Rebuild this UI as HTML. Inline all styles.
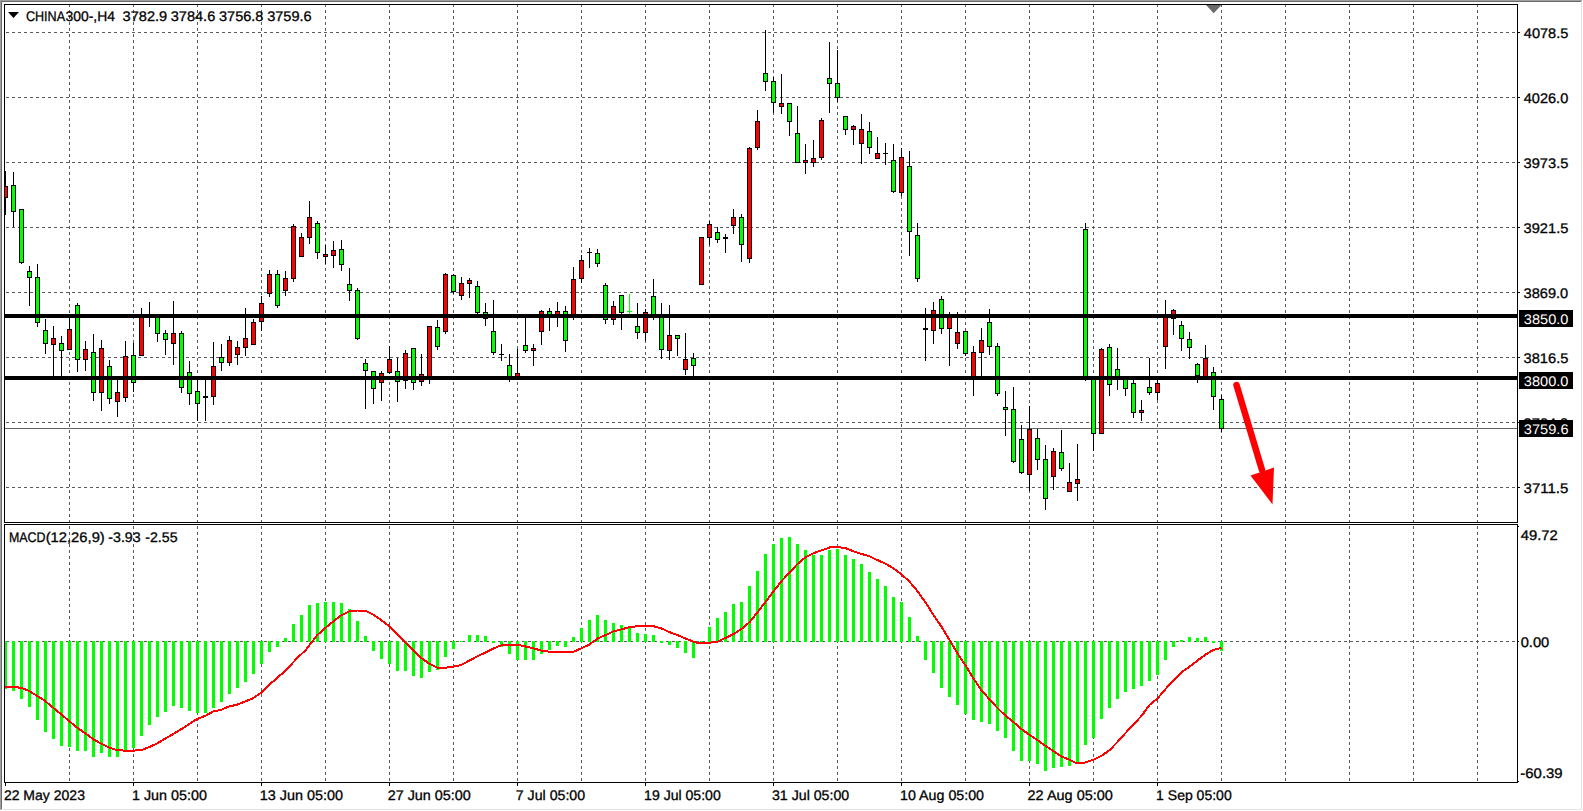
<!DOCTYPE html>
<html lang="en"><head><meta charset="utf-8"><title>CHINA300-,H4</title>
<style>html,body{margin:0;padding:0;background:#fff;overflow:hidden}svg{display:block}text{font-family:"Liberation Sans", sans-serif;font-size:14px;fill:#000;stroke:#000;stroke-width:0.3px}.w{fill:#fff;stroke:none}</style></head><body>
<svg width="1583" height="811" viewBox="0 0 1583 811" shape-rendering="crispEdges">
<rect x="0" y="0" width="1583" height="811" fill="#fff"/>
<rect x="0" y="0" width="1582" height="1" fill="#a0a0a0"/>
<rect x="0" y="0" width="1" height="810" fill="#a0a0a0"/>
<rect x="1" y="1" width="1580" height="1" fill="#696969"/>
<rect x="1" y="1" width="1" height="808" fill="#696969"/>
<rect x="1581" y="1" width="1" height="809" fill="#e3e3e3"/>
<rect x="1" y="809" width="1581" height="1" fill="#e3e3e3"/>
<g stroke="#5a5a5a" stroke-width="1" stroke-dasharray="3 3" fill="none">
<line x1="69.5" y1="4" x2="69.5" y2="522"/>
<line x1="69.5" y1="520" x2="69.5" y2="782"/>
<line x1="133.5" y1="4" x2="133.5" y2="522"/>
<line x1="133.5" y1="520" x2="133.5" y2="782"/>
<line x1="197.5" y1="4" x2="197.5" y2="522"/>
<line x1="197.5" y1="520" x2="197.5" y2="782"/>
<line x1="261.5" y1="4" x2="261.5" y2="522"/>
<line x1="261.5" y1="520" x2="261.5" y2="782"/>
<line x1="325.5" y1="4" x2="325.5" y2="522"/>
<line x1="325.5" y1="520" x2="325.5" y2="782"/>
<line x1="389.5" y1="4" x2="389.5" y2="522"/>
<line x1="389.5" y1="520" x2="389.5" y2="782"/>
<line x1="453.5" y1="4" x2="453.5" y2="522"/>
<line x1="453.5" y1="520" x2="453.5" y2="782"/>
<line x1="517.5" y1="4" x2="517.5" y2="522"/>
<line x1="517.5" y1="520" x2="517.5" y2="782"/>
<line x1="581.5" y1="4" x2="581.5" y2="522"/>
<line x1="581.5" y1="520" x2="581.5" y2="782"/>
<line x1="645.5" y1="4" x2="645.5" y2="522"/>
<line x1="645.5" y1="520" x2="645.5" y2="782"/>
<line x1="709.5" y1="4" x2="709.5" y2="522"/>
<line x1="709.5" y1="520" x2="709.5" y2="782"/>
<line x1="773.5" y1="4" x2="773.5" y2="522"/>
<line x1="773.5" y1="520" x2="773.5" y2="782"/>
<line x1="837.5" y1="4" x2="837.5" y2="522"/>
<line x1="837.5" y1="520" x2="837.5" y2="782"/>
<line x1="901.5" y1="4" x2="901.5" y2="522"/>
<line x1="901.5" y1="520" x2="901.5" y2="782"/>
<line x1="965.5" y1="4" x2="965.5" y2="522"/>
<line x1="965.5" y1="520" x2="965.5" y2="782"/>
<line x1="1029.5" y1="4" x2="1029.5" y2="522"/>
<line x1="1029.5" y1="520" x2="1029.5" y2="782"/>
<line x1="1093.5" y1="4" x2="1093.5" y2="522"/>
<line x1="1093.5" y1="520" x2="1093.5" y2="782"/>
<line x1="1157.5" y1="4" x2="1157.5" y2="522"/>
<line x1="1157.5" y1="520" x2="1157.5" y2="782"/>
<line x1="1221.5" y1="4" x2="1221.5" y2="522"/>
<line x1="1221.5" y1="520" x2="1221.5" y2="782"/>
<line x1="1285.5" y1="4" x2="1285.5" y2="522"/>
<line x1="1285.5" y1="520" x2="1285.5" y2="782"/>
<line x1="1349.5" y1="4" x2="1349.5" y2="522"/>
<line x1="1349.5" y1="520" x2="1349.5" y2="782"/>
<line x1="1413.5" y1="4" x2="1413.5" y2="522"/>
<line x1="1413.5" y1="520" x2="1413.5" y2="782"/>
<line x1="1477.5" y1="4" x2="1477.5" y2="522"/>
<line x1="1477.5" y1="520" x2="1477.5" y2="782"/>
<line x1="6" y1="32.5" x2="1517" y2="32.5"/>
<line x1="6" y1="97.5" x2="1517" y2="97.5"/>
<line x1="6" y1="162.5" x2="1517" y2="162.5"/>
<line x1="6" y1="227.5" x2="1517" y2="227.5"/>
<line x1="6" y1="292.5" x2="1517" y2="292.5"/>
<line x1="6" y1="357.5" x2="1517" y2="357.5"/>
<line x1="6" y1="422.5" x2="1517" y2="422.5"/>
<line x1="6" y1="487.5" x2="1517" y2="487.5"/>
<line x1="6" y1="641.5" x2="1517" y2="641.5"/>
</g>
<rect x="5" y="523" width="1512" height="1" fill="#fff"/>
<rect x="4" y="641" width="3" height="48" fill="#00ff00"/>
<rect x="12" y="641" width="3" height="50" fill="#00ff00"/>
<rect x="20" y="641" width="3" height="58" fill="#00ff00"/>
<rect x="28" y="641" width="3" height="66" fill="#00ff00"/>
<rect x="36" y="641" width="3" height="79" fill="#00ff00"/>
<rect x="44" y="641" width="3" height="91" fill="#00ff00"/>
<rect x="52" y="641" width="3" height="98" fill="#00ff00"/>
<rect x="60" y="641" width="3" height="105" fill="#00ff00"/>
<rect x="68" y="641" width="3" height="106" fill="#00ff00"/>
<rect x="76" y="641" width="3" height="110" fill="#00ff00"/>
<rect x="84" y="641" width="3" height="110" fill="#00ff00"/>
<rect x="92" y="641" width="3" height="116" fill="#00ff00"/>
<rect x="100" y="641" width="3" height="112" fill="#00ff00"/>
<rect x="108" y="641" width="3" height="116" fill="#00ff00"/>
<rect x="116" y="641" width="3" height="116" fill="#00ff00"/>
<rect x="124" y="641" width="3" height="109" fill="#00ff00"/>
<rect x="132" y="641" width="3" height="107" fill="#00ff00"/>
<rect x="140" y="641" width="3" height="95" fill="#00ff00"/>
<rect x="148" y="641" width="3" height="84" fill="#00ff00"/>
<rect x="156" y="641" width="3" height="76" fill="#00ff00"/>
<rect x="164" y="641" width="3" height="71" fill="#00ff00"/>
<rect x="172" y="641" width="3" height="65" fill="#00ff00"/>
<rect x="180" y="641" width="3" height="67" fill="#00ff00"/>
<rect x="188" y="641" width="3" height="70" fill="#00ff00"/>
<rect x="196" y="641" width="3" height="72" fill="#00ff00"/>
<rect x="204" y="641" width="3" height="72" fill="#00ff00"/>
<rect x="212" y="641" width="3" height="67" fill="#00ff00"/>
<rect x="220" y="641" width="3" height="61" fill="#00ff00"/>
<rect x="228" y="641" width="3" height="53" fill="#00ff00"/>
<rect x="236" y="641" width="3" height="47" fill="#00ff00"/>
<rect x="244" y="641" width="3" height="41" fill="#00ff00"/>
<rect x="252" y="641" width="3" height="33" fill="#00ff00"/>
<rect x="260" y="641" width="3" height="23" fill="#00ff00"/>
<rect x="268" y="641" width="3" height="11" fill="#00ff00"/>
<rect x="276" y="641" width="3" height="6" fill="#00ff00"/>
<rect x="284" y="638" width="3" height="4" fill="#00ff00"/>
<rect x="292" y="624" width="3" height="18" fill="#00ff00"/>
<rect x="300" y="615" width="3" height="27" fill="#00ff00"/>
<rect x="308" y="605" width="3" height="37" fill="#00ff00"/>
<rect x="316" y="603" width="3" height="39" fill="#00ff00"/>
<rect x="324" y="602" width="3" height="40" fill="#00ff00"/>
<rect x="332" y="602" width="3" height="40" fill="#00ff00"/>
<rect x="340" y="603" width="3" height="39" fill="#00ff00"/>
<rect x="348" y="609" width="3" height="33" fill="#00ff00"/>
<rect x="356" y="621" width="3" height="21" fill="#00ff00"/>
<rect x="364" y="636" width="3" height="6" fill="#00ff00"/>
<rect x="372" y="641" width="3" height="10" fill="#00ff00"/>
<rect x="380" y="641" width="3" height="18" fill="#00ff00"/>
<rect x="388" y="641" width="3" height="23" fill="#00ff00"/>
<rect x="396" y="641" width="3" height="30" fill="#00ff00"/>
<rect x="404" y="641" width="3" height="30" fill="#00ff00"/>
<rect x="412" y="641" width="3" height="35" fill="#00ff00"/>
<rect x="420" y="641" width="3" height="37" fill="#00ff00"/>
<rect x="428" y="641" width="3" height="31" fill="#00ff00"/>
<rect x="436" y="641" width="3" height="29" fill="#00ff00"/>
<rect x="444" y="641" width="3" height="16" fill="#00ff00"/>
<rect x="452" y="641" width="3" height="8" fill="#00ff00"/>
<rect x="460" y="641" width="3" height="1" fill="#00ff00"/>
<rect x="468" y="635" width="3" height="7" fill="#00ff00"/>
<rect x="476" y="635" width="3" height="7" fill="#00ff00"/>
<rect x="484" y="636" width="3" height="6" fill="#00ff00"/>
<rect x="492" y="641" width="3" height="2" fill="#00ff00"/>
<rect x="500" y="641" width="3" height="6" fill="#00ff00"/>
<rect x="508" y="641" width="3" height="13" fill="#00ff00"/>
<rect x="516" y="641" width="3" height="19" fill="#00ff00"/>
<rect x="524" y="641" width="3" height="19" fill="#00ff00"/>
<rect x="532" y="641" width="3" height="19" fill="#00ff00"/>
<rect x="540" y="641" width="3" height="13" fill="#00ff00"/>
<rect x="548" y="641" width="3" height="9" fill="#00ff00"/>
<rect x="556" y="641" width="3" height="5" fill="#00ff00"/>
<rect x="564" y="641" width="3" height="6" fill="#00ff00"/>
<rect x="572" y="637" width="3" height="5" fill="#00ff00"/>
<rect x="580" y="628" width="3" height="14" fill="#00ff00"/>
<rect x="588" y="620" width="3" height="22" fill="#00ff00"/>
<rect x="596" y="615" width="3" height="27" fill="#00ff00"/>
<rect x="604" y="620" width="3" height="22" fill="#00ff00"/>
<rect x="612" y="623" width="3" height="19" fill="#00ff00"/>
<rect x="620" y="625" width="3" height="17" fill="#00ff00"/>
<rect x="628" y="628" width="3" height="14" fill="#00ff00"/>
<rect x="636" y="633" width="3" height="9" fill="#00ff00"/>
<rect x="644" y="634" width="3" height="8" fill="#00ff00"/>
<rect x="652" y="635" width="3" height="7" fill="#00ff00"/>
<rect x="660" y="641" width="3" height="2" fill="#00ff00"/>
<rect x="668" y="641" width="3" height="4" fill="#00ff00"/>
<rect x="676" y="641" width="3" height="7" fill="#00ff00"/>
<rect x="684" y="641" width="3" height="12" fill="#00ff00"/>
<rect x="692" y="641" width="3" height="17" fill="#00ff00"/>
<rect x="700" y="641" width="3" height="2" fill="#00ff00"/>
<rect x="708" y="627" width="3" height="15" fill="#00ff00"/>
<rect x="716" y="618" width="3" height="24" fill="#00ff00"/>
<rect x="724" y="612" width="3" height="30" fill="#00ff00"/>
<rect x="732" y="604" width="3" height="38" fill="#00ff00"/>
<rect x="740" y="602" width="3" height="40" fill="#00ff00"/>
<rect x="748" y="586" width="3" height="56" fill="#00ff00"/>
<rect x="756" y="571" width="3" height="71" fill="#00ff00"/>
<rect x="764" y="554" width="3" height="88" fill="#00ff00"/>
<rect x="772" y="544" width="3" height="98" fill="#00ff00"/>
<rect x="780" y="538" width="3" height="104" fill="#00ff00"/>
<rect x="788" y="537" width="3" height="105" fill="#00ff00"/>
<rect x="796" y="544" width="3" height="98" fill="#00ff00"/>
<rect x="804" y="550" width="3" height="92" fill="#00ff00"/>
<rect x="812" y="555" width="3" height="87" fill="#00ff00"/>
<rect x="820" y="555" width="3" height="87" fill="#00ff00"/>
<rect x="828" y="550" width="3" height="92" fill="#00ff00"/>
<rect x="836" y="549" width="3" height="93" fill="#00ff00"/>
<rect x="844" y="555" width="3" height="87" fill="#00ff00"/>
<rect x="852" y="559" width="3" height="83" fill="#00ff00"/>
<rect x="860" y="564" width="3" height="78" fill="#00ff00"/>
<rect x="868" y="572" width="3" height="70" fill="#00ff00"/>
<rect x="876" y="579" width="3" height="63" fill="#00ff00"/>
<rect x="884" y="586" width="3" height="56" fill="#00ff00"/>
<rect x="892" y="597" width="3" height="45" fill="#00ff00"/>
<rect x="900" y="602" width="3" height="40" fill="#00ff00"/>
<rect x="908" y="617" width="3" height="25" fill="#00ff00"/>
<rect x="916" y="636" width="3" height="6" fill="#00ff00"/>
<rect x="924" y="641" width="3" height="19" fill="#00ff00"/>
<rect x="932" y="641" width="3" height="32" fill="#00ff00"/>
<rect x="940" y="641" width="3" height="47" fill="#00ff00"/>
<rect x="948" y="641" width="3" height="56" fill="#00ff00"/>
<rect x="956" y="641" width="3" height="64" fill="#00ff00"/>
<rect x="964" y="641" width="3" height="73" fill="#00ff00"/>
<rect x="972" y="641" width="3" height="79" fill="#00ff00"/>
<rect x="980" y="641" width="3" height="81" fill="#00ff00"/>
<rect x="988" y="641" width="3" height="83" fill="#00ff00"/>
<rect x="996" y="641" width="3" height="90" fill="#00ff00"/>
<rect x="1004" y="641" width="3" height="97" fill="#00ff00"/>
<rect x="1012" y="641" width="3" height="110" fill="#00ff00"/>
<rect x="1020" y="641" width="3" height="120" fill="#00ff00"/>
<rect x="1028" y="641" width="3" height="120" fill="#00ff00"/>
<rect x="1036" y="641" width="3" height="123" fill="#00ff00"/>
<rect x="1044" y="641" width="3" height="130" fill="#00ff00"/>
<rect x="1052" y="641" width="3" height="127" fill="#00ff00"/>
<rect x="1060" y="641" width="3" height="126" fill="#00ff00"/>
<rect x="1068" y="641" width="3" height="125" fill="#00ff00"/>
<rect x="1076" y="641" width="3" height="121" fill="#00ff00"/>
<rect x="1084" y="641" width="3" height="104" fill="#00ff00"/>
<rect x="1092" y="641" width="3" height="97" fill="#00ff00"/>
<rect x="1100" y="641" width="3" height="78" fill="#00ff00"/>
<rect x="1108" y="641" width="3" height="67" fill="#00ff00"/>
<rect x="1116" y="641" width="3" height="58" fill="#00ff00"/>
<rect x="1124" y="641" width="3" height="51" fill="#00ff00"/>
<rect x="1132" y="641" width="3" height="48" fill="#00ff00"/>
<rect x="1140" y="641" width="3" height="45" fill="#00ff00"/>
<rect x="1148" y="641" width="3" height="40" fill="#00ff00"/>
<rect x="1156" y="641" width="3" height="34" fill="#00ff00"/>
<rect x="1164" y="641" width="3" height="19" fill="#00ff00"/>
<rect x="1172" y="641" width="3" height="6" fill="#00ff00"/>
<rect x="1180" y="640" width="3" height="2" fill="#00ff00"/>
<rect x="1188" y="637" width="3" height="5" fill="#00ff00"/>
<rect x="1196" y="638" width="3" height="4" fill="#00ff00"/>
<rect x="1204" y="637" width="3" height="5" fill="#00ff00"/>
<rect x="1212" y="641" width="3" height="2" fill="#00ff00"/>
<rect x="1220" y="641" width="3" height="10" fill="#00ff00"/>
<polyline points="5.0,687.0 21.0,687.6 29.0,691.0 37.0,695.8 45.0,700.9 53.0,707.6 61.0,714.2 69.0,720.9 77.0,727.6 85.0,733.1 93.0,739.1 101.0,743.5 109.0,747.5 117.0,750.2 125.0,750.6 133.0,750.6 141.0,750.2 149.0,747.1 157.0,743.5 165.0,738.7 173.0,734.2 181.0,729.3 189.0,724.2 197.0,719.1 205.0,716.0 213.0,711.6 221.0,709.8 229.0,706.5 237.0,704.7 245.0,701.6 253.0,698.3 261.0,692.8 269.0,685.0 277.0,678.0 285.6,670.5 297.9,657.3 305.5,650.3 316.9,635.5 325.4,627.9 333.5,621.3 341.5,615.2 349.4,611.2 357.6,610.5 365.2,610.8 373.5,614.6 381.5,620.3 389.4,626.4 397.6,634.5 405.5,642.1 413.5,650.6 421.5,658.2 429.6,663.9 437.6,667.7 445.5,667.7 453.5,666.7 461.4,664.9 469.6,660.5 477.5,656.3 485.5,652.5 493.5,648.4 501.4,645.3 509.6,644.6 517.5,644.6 525.5,646.5 533.5,648.4 541.4,650.6 549.6,651.8 560.0,652.1 572.7,652.1 581.5,648.3 589.4,644.5 597.6,638.5 605.5,635.1 613.5,631.3 621.4,629.4 629.6,627.1 637.5,626.2 645.5,626.0 653.5,626.2 661.4,628.4 669.6,632.2 677.5,635.1 685.5,638.5 693.4,641.7 697.8,643.0 709.6,642.7 717.5,641.7 725.5,637.9 733.4,634.1 741.4,629.0 749.5,622.2 757.5,612.3 765.5,601.9 773.4,591.5 781.6,581.1 789.5,572.5 797.5,564.0 805.4,557.4 813.4,553.2 821.5,550.4 829.5,547.5 837.5,547.1 845.4,548.1 853.3,551.3 869.3,556.3 885.3,563.7 893.3,568.1 901.5,574.3 909.5,581.7 917.5,591.2 925.5,602.5 933.5,614.9 941.5,626.7 949.5,640.0 957.5,653.3 965.4,665.2 973.4,678.5 981.4,690.3 989.4,699.2 997.5,708.1 1005.5,715.8 1013.5,722.1 1021.5,729.2 1029.6,734.9 1037.6,740.3 1045.4,745.8 1053.5,751.1 1061.5,756.5 1069.5,759.7 1075.0,762.6 1084.6,762.6 1093.6,759.7 1101.4,755.9 1109.5,750.2 1117.5,742.0 1125.5,733.0 1133.5,724.4 1141.6,715.8 1149.6,704.9 1157.4,698.6 1165.5,689.0 1173.5,680.4 1181.5,672.4 1189.5,666.7 1197.6,660.4 1205.6,654.6 1213.6,649.8 1221.5,647.9" fill="none" stroke="#ff0000" stroke-width="2" stroke-linejoin="round"/>
<rect x="5" y="428" width="1512" height="1" fill="#646464"/>
<rect x="5" y="171" width="1" height="44" fill="#000"/>
<rect x="3" y="186" width="5" height="12" fill="#000"/>
<rect x="4" y="187" width="3" height="10" fill="#ff0000"/>
<rect x="13" y="172" width="1" height="55" fill="#000"/>
<rect x="11" y="185" width="5" height="27" fill="#000"/>
<rect x="12" y="186" width="3" height="25" fill="#00ff00"/>
<rect x="21" y="209" width="1" height="55" fill="#000"/>
<rect x="19" y="209" width="5" height="54" fill="#000"/>
<rect x="20" y="210" width="3" height="52" fill="#00ff00"/>
<rect x="29" y="266" width="1" height="40" fill="#000"/>
<rect x="27" y="271" width="5" height="7" fill="#000"/>
<rect x="28" y="272" width="3" height="5" fill="#00ff00"/>
<rect x="37" y="264" width="1" height="63" fill="#000"/>
<rect x="35" y="277" width="5" height="46" fill="#000"/>
<rect x="36" y="278" width="3" height="44" fill="#00ff00"/>
<rect x="45" y="319" width="1" height="35" fill="#000"/>
<rect x="43" y="330" width="5" height="14" fill="#000"/>
<rect x="44" y="331" width="3" height="12" fill="#00ff00"/>
<rect x="53" y="326" width="1" height="52" fill="#000"/>
<rect x="51" y="338" width="5" height="7" fill="#000"/>
<rect x="52" y="339" width="3" height="5" fill="#ff0000"/>
<rect x="61" y="336" width="1" height="42" fill="#000"/>
<rect x="59" y="343" width="5" height="8" fill="#000"/>
<rect x="60" y="344" width="3" height="6" fill="#00ff00"/>
<rect x="69" y="314" width="1" height="36" fill="#000"/>
<rect x="67" y="329" width="5" height="21" fill="#000"/>
<rect x="68" y="330" width="3" height="19" fill="#ff0000"/>
<rect x="77" y="303" width="1" height="69" fill="#000"/>
<rect x="75" y="305" width="5" height="55" fill="#000"/>
<rect x="76" y="306" width="3" height="53" fill="#00ff00"/>
<rect x="85" y="341" width="1" height="30" fill="#000"/>
<rect x="83" y="349" width="5" height="11" fill="#000"/>
<rect x="84" y="350" width="3" height="9" fill="#ff0000"/>
<rect x="93" y="334" width="1" height="67" fill="#000"/>
<rect x="91" y="352" width="5" height="41" fill="#000"/>
<rect x="92" y="353" width="3" height="39" fill="#00ff00"/>
<rect x="101" y="340" width="1" height="71" fill="#000"/>
<rect x="99" y="348" width="5" height="45" fill="#000"/>
<rect x="100" y="349" width="3" height="43" fill="#ff0000"/>
<rect x="109" y="360" width="1" height="44" fill="#000"/>
<rect x="107" y="366" width="5" height="33" fill="#000"/>
<rect x="108" y="367" width="3" height="31" fill="#00ff00"/>
<rect x="117" y="378" width="1" height="39" fill="#000"/>
<rect x="115" y="392" width="5" height="10" fill="#000"/>
<rect x="116" y="393" width="3" height="8" fill="#ff0000"/>
<rect x="125" y="341" width="1" height="61" fill="#000"/>
<rect x="123" y="356" width="5" height="42" fill="#000"/>
<rect x="124" y="357" width="3" height="40" fill="#ff0000"/>
<rect x="133" y="343" width="1" height="49" fill="#000"/>
<rect x="131" y="355" width="5" height="28" fill="#000"/>
<rect x="132" y="356" width="3" height="26" fill="#00ff00"/>
<rect x="141" y="308" width="1" height="48" fill="#000"/>
<rect x="139" y="316" width="5" height="40" fill="#000"/>
<rect x="140" y="317" width="3" height="38" fill="#ff0000"/>
<rect x="149" y="302" width="1" height="25" fill="#000"/>
<rect x="147" y="316" width="5" height="1" fill="#000"/>
<rect x="157" y="315" width="1" height="27" fill="#000"/>
<rect x="155" y="316" width="5" height="18" fill="#000"/>
<rect x="156" y="317" width="3" height="16" fill="#00ff00"/>
<rect x="165" y="330" width="1" height="25" fill="#000"/>
<rect x="163" y="333" width="5" height="7" fill="#000"/>
<rect x="164" y="334" width="3" height="5" fill="#00ff00"/>
<rect x="173" y="301" width="1" height="64" fill="#000"/>
<rect x="171" y="333" width="5" height="11" fill="#000"/>
<rect x="172" y="334" width="3" height="9" fill="#ff0000"/>
<rect x="181" y="331" width="1" height="62" fill="#000"/>
<rect x="179" y="333" width="5" height="55" fill="#000"/>
<rect x="180" y="334" width="3" height="53" fill="#00ff00"/>
<rect x="189" y="361" width="1" height="44" fill="#000"/>
<rect x="187" y="372" width="5" height="22" fill="#000"/>
<rect x="188" y="373" width="3" height="20" fill="#00ff00"/>
<rect x="197" y="378" width="1" height="43" fill="#000"/>
<rect x="195" y="391" width="5" height="13" fill="#000"/>
<rect x="196" y="392" width="3" height="11" fill="#00ff00"/>
<rect x="205" y="378" width="1" height="43" fill="#000"/>
<rect x="203" y="396" width="5" height="2" fill="#000"/>
<rect x="213" y="342" width="1" height="63" fill="#000"/>
<rect x="211" y="366" width="5" height="31" fill="#000"/>
<rect x="212" y="367" width="3" height="29" fill="#ff0000"/>
<rect x="221" y="344" width="1" height="27" fill="#000"/>
<rect x="219" y="357" width="5" height="6" fill="#000"/>
<rect x="220" y="358" width="3" height="4" fill="#00ff00"/>
<rect x="229" y="336" width="1" height="30" fill="#000"/>
<rect x="227" y="340" width="5" height="23" fill="#000"/>
<rect x="228" y="341" width="3" height="21" fill="#ff0000"/>
<rect x="237" y="341" width="1" height="24" fill="#000"/>
<rect x="235" y="347" width="5" height="8" fill="#000"/>
<rect x="236" y="348" width="3" height="6" fill="#ff0000"/>
<rect x="245" y="308" width="1" height="48" fill="#000"/>
<rect x="243" y="338" width="5" height="10" fill="#000"/>
<rect x="244" y="339" width="3" height="8" fill="#ff0000"/>
<rect x="253" y="319" width="1" height="26" fill="#000"/>
<rect x="251" y="322" width="5" height="23" fill="#000"/>
<rect x="252" y="323" width="3" height="21" fill="#ff0000"/>
<rect x="261" y="296" width="1" height="35" fill="#000"/>
<rect x="259" y="303" width="5" height="19" fill="#000"/>
<rect x="260" y="304" width="3" height="17" fill="#ff0000"/>
<rect x="269" y="270" width="1" height="27" fill="#000"/>
<rect x="267" y="274" width="5" height="20" fill="#000"/>
<rect x="268" y="275" width="3" height="18" fill="#ff0000"/>
<rect x="277" y="270" width="1" height="38" fill="#000"/>
<rect x="275" y="274" width="5" height="32" fill="#000"/>
<rect x="276" y="275" width="3" height="30" fill="#00ff00"/>
<rect x="285" y="271" width="1" height="25" fill="#000"/>
<rect x="283" y="278" width="5" height="13" fill="#000"/>
<rect x="284" y="279" width="3" height="11" fill="#ff0000"/>
<rect x="293" y="224" width="1" height="58" fill="#000"/>
<rect x="291" y="226" width="5" height="53" fill="#000"/>
<rect x="292" y="227" width="3" height="51" fill="#ff0000"/>
<rect x="301" y="233" width="1" height="24" fill="#000"/>
<rect x="299" y="237" width="5" height="20" fill="#000"/>
<rect x="300" y="238" width="3" height="18" fill="#ff0000"/>
<rect x="309" y="201" width="1" height="43" fill="#000"/>
<rect x="307" y="217" width="5" height="21" fill="#000"/>
<rect x="308" y="218" width="3" height="19" fill="#ff0000"/>
<rect x="317" y="221" width="1" height="38" fill="#000"/>
<rect x="315" y="223" width="5" height="30" fill="#000"/>
<rect x="316" y="224" width="3" height="28" fill="#00ff00"/>
<rect x="325" y="245" width="1" height="19" fill="#000"/>
<rect x="323" y="254" width="5" height="3" fill="#000"/>
<rect x="324" y="255" width="3" height="1" fill="#ff0000"/>
<rect x="333" y="241" width="1" height="27" fill="#000"/>
<rect x="331" y="250" width="5" height="6" fill="#000"/>
<rect x="332" y="251" width="3" height="4" fill="#ff0000"/>
<rect x="341" y="240" width="1" height="31" fill="#000"/>
<rect x="339" y="249" width="5" height="16" fill="#000"/>
<rect x="340" y="250" width="3" height="14" fill="#00ff00"/>
<rect x="349" y="268" width="1" height="33" fill="#000"/>
<rect x="347" y="284" width="5" height="7" fill="#000"/>
<rect x="348" y="285" width="3" height="5" fill="#00ff00"/>
<rect x="357" y="288" width="1" height="52" fill="#000"/>
<rect x="355" y="290" width="5" height="49" fill="#000"/>
<rect x="356" y="291" width="3" height="47" fill="#00ff00"/>
<rect x="365" y="359" width="1" height="50" fill="#000"/>
<rect x="363" y="363" width="5" height="8" fill="#000"/>
<rect x="364" y="364" width="3" height="6" fill="#00ff00"/>
<rect x="373" y="371" width="1" height="33" fill="#000"/>
<rect x="371" y="371" width="5" height="18" fill="#000"/>
<rect x="372" y="372" width="3" height="16" fill="#00ff00"/>
<rect x="381" y="371" width="1" height="30" fill="#000"/>
<rect x="379" y="373" width="5" height="10" fill="#000"/>
<rect x="380" y="374" width="3" height="8" fill="#ff0000"/>
<rect x="389" y="346" width="1" height="28" fill="#000"/>
<rect x="387" y="359" width="5" height="14" fill="#000"/>
<rect x="388" y="360" width="3" height="12" fill="#ff0000"/>
<rect x="397" y="358" width="1" height="44" fill="#000"/>
<rect x="395" y="371" width="5" height="11" fill="#000"/>
<rect x="396" y="372" width="3" height="9" fill="#00ff00"/>
<rect x="405" y="350" width="1" height="39" fill="#000"/>
<rect x="403" y="353" width="5" height="28" fill="#000"/>
<rect x="404" y="354" width="3" height="26" fill="#ff0000"/>
<rect x="413" y="348" width="1" height="42" fill="#000"/>
<rect x="411" y="348" width="5" height="35" fill="#000"/>
<rect x="412" y="349" width="3" height="33" fill="#00ff00"/>
<rect x="421" y="354" width="1" height="32" fill="#000"/>
<rect x="419" y="374" width="5" height="8" fill="#000"/>
<rect x="420" y="375" width="3" height="6" fill="#ff0000"/>
<rect x="429" y="326" width="1" height="58" fill="#000"/>
<rect x="427" y="326" width="5" height="53" fill="#000"/>
<rect x="428" y="327" width="3" height="51" fill="#ff0000"/>
<rect x="437" y="320" width="1" height="30" fill="#000"/>
<rect x="435" y="327" width="5" height="20" fill="#000"/>
<rect x="436" y="328" width="3" height="18" fill="#00ff00"/>
<rect x="445" y="273" width="1" height="61" fill="#000"/>
<rect x="443" y="274" width="5" height="58" fill="#000"/>
<rect x="444" y="275" width="3" height="56" fill="#ff0000"/>
<rect x="453" y="274" width="1" height="20" fill="#000"/>
<rect x="451" y="275" width="5" height="17" fill="#000"/>
<rect x="452" y="276" width="3" height="15" fill="#00ff00"/>
<rect x="461" y="277" width="1" height="23" fill="#000"/>
<rect x="459" y="283" width="5" height="13" fill="#000"/>
<rect x="460" y="284" width="3" height="11" fill="#ff0000"/>
<rect x="469" y="278" width="1" height="20" fill="#000"/>
<rect x="467" y="280" width="5" height="4" fill="#000"/>
<rect x="468" y="281" width="3" height="2" fill="#ff0000"/>
<rect x="477" y="281" width="1" height="33" fill="#000"/>
<rect x="475" y="286" width="5" height="27" fill="#000"/>
<rect x="476" y="287" width="3" height="25" fill="#00ff00"/>
<rect x="485" y="303" width="1" height="23" fill="#000"/>
<rect x="483" y="312" width="5" height="7" fill="#000"/>
<rect x="484" y="313" width="3" height="5" fill="#00ff00"/>
<rect x="493" y="300" width="1" height="55" fill="#000"/>
<rect x="491" y="331" width="5" height="22" fill="#000"/>
<rect x="492" y="332" width="3" height="20" fill="#00ff00"/>
<rect x="501" y="344" width="1" height="17" fill="#000"/>
<rect x="499" y="354" width="5" height="1" fill="#000"/>
<rect x="509" y="354" width="1" height="28" fill="#000"/>
<rect x="507" y="365" width="5" height="14" fill="#000"/>
<rect x="508" y="366" width="3" height="12" fill="#00ff00"/>
<rect x="517" y="349" width="1" height="31" fill="#000"/>
<rect x="515" y="373" width="5" height="6" fill="#000"/>
<rect x="516" y="374" width="3" height="4" fill="#ff0000"/>
<rect x="525" y="316" width="1" height="37" fill="#000"/>
<rect x="523" y="345" width="5" height="6" fill="#000"/>
<rect x="524" y="346" width="3" height="4" fill="#00ff00"/>
<rect x="533" y="344" width="1" height="22" fill="#000"/>
<rect x="531" y="348" width="5" height="3" fill="#000"/>
<rect x="532" y="349" width="3" height="1" fill="#ff0000"/>
<rect x="541" y="310" width="1" height="35" fill="#000"/>
<rect x="539" y="311" width="5" height="21" fill="#000"/>
<rect x="540" y="312" width="3" height="19" fill="#ff0000"/>
<rect x="549" y="308" width="1" height="23" fill="#000"/>
<rect x="547" y="311" width="5" height="7" fill="#000"/>
<rect x="548" y="312" width="3" height="5" fill="#00ff00"/>
<rect x="557" y="302" width="1" height="25" fill="#000"/>
<rect x="555" y="311" width="5" height="7" fill="#000"/>
<rect x="556" y="312" width="3" height="5" fill="#ff0000"/>
<rect x="565" y="306" width="1" height="46" fill="#000"/>
<rect x="563" y="311" width="5" height="30" fill="#000"/>
<rect x="564" y="312" width="3" height="28" fill="#00ff00"/>
<rect x="573" y="267" width="1" height="53" fill="#000"/>
<rect x="571" y="279" width="5" height="38" fill="#000"/>
<rect x="572" y="280" width="3" height="36" fill="#ff0000"/>
<rect x="581" y="255" width="1" height="28" fill="#000"/>
<rect x="579" y="260" width="5" height="19" fill="#000"/>
<rect x="580" y="261" width="3" height="17" fill="#ff0000"/>
<rect x="589" y="248" width="1" height="20" fill="#000"/>
<rect x="587" y="252" width="5" height="1" fill="#000"/>
<rect x="597" y="249" width="1" height="18" fill="#000"/>
<rect x="595" y="253" width="5" height="11" fill="#000"/>
<rect x="596" y="254" width="3" height="9" fill="#00ff00"/>
<rect x="605" y="283" width="1" height="41" fill="#000"/>
<rect x="603" y="285" width="5" height="35" fill="#000"/>
<rect x="604" y="286" width="3" height="33" fill="#00ff00"/>
<rect x="613" y="301" width="1" height="24" fill="#000"/>
<rect x="611" y="306" width="5" height="14" fill="#000"/>
<rect x="612" y="307" width="3" height="12" fill="#ff0000"/>
<rect x="621" y="295" width="1" height="35" fill="#000"/>
<rect x="619" y="295" width="5" height="18" fill="#000"/>
<rect x="620" y="296" width="3" height="16" fill="#00ff00"/>
<rect x="629" y="294" width="1" height="22" fill="#00ff00"/>
<rect x="627" y="311" width="5" height="1" fill="#00ff00"/>
<rect x="637" y="303" width="1" height="36" fill="#000"/>
<rect x="635" y="326" width="5" height="7" fill="#000"/>
<rect x="636" y="327" width="3" height="5" fill="#00ff00"/>
<rect x="645" y="309" width="1" height="32" fill="#000"/>
<rect x="643" y="312" width="5" height="21" fill="#000"/>
<rect x="644" y="313" width="3" height="19" fill="#ff0000"/>
<rect x="653" y="279" width="1" height="41" fill="#000"/>
<rect x="651" y="296" width="5" height="22" fill="#000"/>
<rect x="652" y="297" width="3" height="20" fill="#00ff00"/>
<rect x="661" y="303" width="1" height="56" fill="#000"/>
<rect x="659" y="316" width="5" height="34" fill="#000"/>
<rect x="660" y="317" width="3" height="32" fill="#00ff00"/>
<rect x="669" y="305" width="1" height="55" fill="#000"/>
<rect x="667" y="335" width="5" height="16" fill="#000"/>
<rect x="668" y="336" width="3" height="14" fill="#ff0000"/>
<rect x="677" y="335" width="1" height="21" fill="#000"/>
<rect x="675" y="335" width="5" height="4" fill="#000"/>
<rect x="676" y="336" width="3" height="2" fill="#00ff00"/>
<rect x="685" y="333" width="1" height="42" fill="#000"/>
<rect x="683" y="359" width="5" height="11" fill="#000"/>
<rect x="684" y="360" width="3" height="9" fill="#ff0000"/>
<rect x="693" y="353" width="1" height="25" fill="#000"/>
<rect x="691" y="358" width="5" height="8" fill="#000"/>
<rect x="692" y="359" width="3" height="6" fill="#00ff00"/>
<rect x="701" y="237" width="1" height="48" fill="#000"/>
<rect x="699" y="237" width="5" height="48" fill="#000"/>
<rect x="700" y="238" width="3" height="46" fill="#ff0000"/>
<rect x="709" y="221" width="1" height="24" fill="#000"/>
<rect x="707" y="224" width="5" height="14" fill="#000"/>
<rect x="708" y="225" width="3" height="12" fill="#ff0000"/>
<rect x="717" y="227" width="1" height="16" fill="#000"/>
<rect x="715" y="232" width="5" height="8" fill="#000"/>
<rect x="716" y="233" width="3" height="6" fill="#00ff00"/>
<rect x="725" y="234" width="1" height="19" fill="#000"/>
<rect x="723" y="237" width="5" height="2" fill="#000"/>
<rect x="733" y="209" width="1" height="25" fill="#000"/>
<rect x="731" y="217" width="5" height="9" fill="#000"/>
<rect x="732" y="218" width="3" height="7" fill="#ff0000"/>
<rect x="741" y="214" width="1" height="48" fill="#000"/>
<rect x="739" y="217" width="5" height="28" fill="#000"/>
<rect x="740" y="218" width="3" height="26" fill="#00ff00"/>
<rect x="749" y="147" width="1" height="116" fill="#000"/>
<rect x="747" y="148" width="5" height="111" fill="#000"/>
<rect x="748" y="149" width="3" height="109" fill="#ff0000"/>
<rect x="757" y="110" width="1" height="40" fill="#000"/>
<rect x="755" y="121" width="5" height="27" fill="#000"/>
<rect x="756" y="122" width="3" height="25" fill="#ff0000"/>
<rect x="765" y="30" width="1" height="61" fill="#000"/>
<rect x="763" y="73" width="5" height="9" fill="#000"/>
<rect x="764" y="74" width="3" height="7" fill="#00ff00"/>
<rect x="773" y="77" width="1" height="36" fill="#000"/>
<rect x="771" y="81" width="5" height="22" fill="#000"/>
<rect x="772" y="82" width="3" height="20" fill="#00ff00"/>
<rect x="781" y="74" width="1" height="40" fill="#000"/>
<rect x="779" y="103" width="5" height="4" fill="#000"/>
<rect x="780" y="104" width="3" height="2" fill="#ff0000"/>
<rect x="789" y="103" width="1" height="33" fill="#000"/>
<rect x="787" y="103" width="5" height="19" fill="#000"/>
<rect x="788" y="104" width="3" height="17" fill="#00ff00"/>
<rect x="797" y="106" width="1" height="57" fill="#000"/>
<rect x="795" y="133" width="5" height="30" fill="#000"/>
<rect x="796" y="134" width="3" height="28" fill="#00ff00"/>
<rect x="805" y="144" width="1" height="30" fill="#000"/>
<rect x="803" y="160" width="5" height="3" fill="#000"/>
<rect x="804" y="161" width="3" height="1" fill="#ff0000"/>
<rect x="813" y="140" width="1" height="27" fill="#000"/>
<rect x="811" y="158" width="5" height="5" fill="#000"/>
<rect x="812" y="159" width="3" height="3" fill="#ff0000"/>
<rect x="821" y="118" width="1" height="42" fill="#000"/>
<rect x="819" y="120" width="5" height="38" fill="#000"/>
<rect x="820" y="121" width="3" height="36" fill="#ff0000"/>
<rect x="829" y="42" width="1" height="71" fill="#000"/>
<rect x="827" y="78" width="5" height="6" fill="#000"/>
<rect x="828" y="79" width="3" height="4" fill="#00ff00"/>
<rect x="837" y="50" width="1" height="52" fill="#000"/>
<rect x="835" y="83" width="5" height="15" fill="#000"/>
<rect x="836" y="84" width="3" height="13" fill="#00ff00"/>
<rect x="845" y="116" width="1" height="19" fill="#000"/>
<rect x="843" y="116" width="5" height="14" fill="#000"/>
<rect x="844" y="117" width="3" height="12" fill="#00ff00"/>
<rect x="853" y="125" width="1" height="20" fill="#000"/>
<rect x="851" y="126" width="5" height="4" fill="#000"/>
<rect x="852" y="127" width="3" height="2" fill="#ff0000"/>
<rect x="861" y="114" width="1" height="50" fill="#000"/>
<rect x="859" y="129" width="5" height="15" fill="#000"/>
<rect x="860" y="130" width="3" height="13" fill="#ff0000"/>
<rect x="869" y="122" width="1" height="32" fill="#000"/>
<rect x="867" y="131" width="5" height="17" fill="#000"/>
<rect x="868" y="132" width="3" height="15" fill="#00ff00"/>
<rect x="877" y="137" width="1" height="22" fill="#000"/>
<rect x="875" y="153" width="5" height="6" fill="#000"/>
<rect x="876" y="154" width="3" height="4" fill="#ff0000"/>
<rect x="885" y="143" width="1" height="22" fill="#000"/>
<rect x="883" y="153" width="5" height="1" fill="#000"/>
<rect x="893" y="144" width="1" height="49" fill="#000"/>
<rect x="891" y="160" width="5" height="32" fill="#000"/>
<rect x="892" y="161" width="3" height="30" fill="#00ff00"/>
<rect x="901" y="148" width="1" height="48" fill="#000"/>
<rect x="899" y="157" width="5" height="36" fill="#000"/>
<rect x="900" y="158" width="3" height="34" fill="#ff0000"/>
<rect x="909" y="151" width="1" height="105" fill="#000"/>
<rect x="907" y="166" width="5" height="66" fill="#000"/>
<rect x="908" y="167" width="3" height="64" fill="#00ff00"/>
<rect x="917" y="223" width="1" height="59" fill="#000"/>
<rect x="915" y="235" width="5" height="44" fill="#000"/>
<rect x="916" y="236" width="3" height="42" fill="#00ff00"/>
<rect x="925" y="308" width="1" height="53" fill="#000"/>
<rect x="923" y="328" width="5" height="2" fill="#000"/>
<rect x="933" y="302" width="1" height="42" fill="#000"/>
<rect x="931" y="310" width="5" height="21" fill="#000"/>
<rect x="932" y="311" width="3" height="19" fill="#ff0000"/>
<rect x="941" y="296" width="1" height="38" fill="#000"/>
<rect x="939" y="299" width="5" height="30" fill="#000"/>
<rect x="940" y="300" width="3" height="28" fill="#00ff00"/>
<rect x="949" y="312" width="1" height="54" fill="#000"/>
<rect x="947" y="316" width="5" height="13" fill="#000"/>
<rect x="948" y="317" width="3" height="11" fill="#ff0000"/>
<rect x="957" y="312" width="1" height="37" fill="#000"/>
<rect x="955" y="332" width="5" height="12" fill="#000"/>
<rect x="956" y="333" width="3" height="10" fill="#ff0000"/>
<rect x="965" y="331" width="1" height="25" fill="#000"/>
<rect x="963" y="331" width="5" height="23" fill="#000"/>
<rect x="964" y="332" width="3" height="21" fill="#00ff00"/>
<rect x="973" y="346" width="1" height="50" fill="#000"/>
<rect x="971" y="352" width="5" height="27" fill="#000"/>
<rect x="972" y="353" width="3" height="25" fill="#ff0000"/>
<rect x="981" y="328" width="1" height="50" fill="#000"/>
<rect x="979" y="340" width="5" height="13" fill="#000"/>
<rect x="980" y="341" width="3" height="11" fill="#ff0000"/>
<rect x="989" y="309" width="1" height="46" fill="#000"/>
<rect x="987" y="322" width="5" height="25" fill="#000"/>
<rect x="988" y="323" width="3" height="23" fill="#00ff00"/>
<rect x="997" y="343" width="1" height="53" fill="#000"/>
<rect x="995" y="346" width="5" height="48" fill="#000"/>
<rect x="996" y="347" width="3" height="46" fill="#00ff00"/>
<rect x="1005" y="391" width="1" height="45" fill="#000"/>
<rect x="1003" y="407" width="5" height="3" fill="#000"/>
<rect x="1004" y="408" width="3" height="1" fill="#00ff00"/>
<rect x="1013" y="387" width="1" height="76" fill="#000"/>
<rect x="1011" y="409" width="5" height="53" fill="#000"/>
<rect x="1012" y="410" width="3" height="51" fill="#00ff00"/>
<rect x="1021" y="425" width="1" height="49" fill="#000"/>
<rect x="1019" y="439" width="5" height="34" fill="#000"/>
<rect x="1020" y="440" width="3" height="32" fill="#00ff00"/>
<rect x="1029" y="406" width="1" height="85" fill="#000"/>
<rect x="1027" y="429" width="5" height="46" fill="#000"/>
<rect x="1028" y="430" width="3" height="44" fill="#ff0000"/>
<rect x="1037" y="429" width="1" height="41" fill="#000"/>
<rect x="1035" y="438" width="5" height="22" fill="#000"/>
<rect x="1036" y="439" width="3" height="20" fill="#00ff00"/>
<rect x="1045" y="445" width="1" height="65" fill="#000"/>
<rect x="1043" y="459" width="5" height="40" fill="#000"/>
<rect x="1044" y="460" width="3" height="38" fill="#00ff00"/>
<rect x="1053" y="448" width="1" height="42" fill="#000"/>
<rect x="1051" y="451" width="5" height="26" fill="#000"/>
<rect x="1052" y="452" width="3" height="24" fill="#ff0000"/>
<rect x="1061" y="430" width="1" height="41" fill="#000"/>
<rect x="1059" y="452" width="5" height="17" fill="#000"/>
<rect x="1060" y="453" width="3" height="15" fill="#00ff00"/>
<rect x="1069" y="463" width="1" height="29" fill="#000"/>
<rect x="1067" y="482" width="5" height="10" fill="#000"/>
<rect x="1068" y="483" width="3" height="8" fill="#ff0000"/>
<rect x="1077" y="444" width="1" height="57" fill="#000"/>
<rect x="1075" y="479" width="5" height="5" fill="#000"/>
<rect x="1076" y="480" width="3" height="3" fill="#ff0000"/>
<rect x="1085" y="223" width="1" height="158" fill="#000"/>
<rect x="1083" y="229" width="5" height="150" fill="#000"/>
<rect x="1084" y="230" width="3" height="148" fill="#00ff00"/>
<rect x="1093" y="376" width="1" height="75" fill="#000"/>
<rect x="1091" y="376" width="5" height="58" fill="#000"/>
<rect x="1092" y="377" width="3" height="56" fill="#00ff00"/>
<rect x="1101" y="348" width="1" height="86" fill="#000"/>
<rect x="1099" y="349" width="5" height="85" fill="#000"/>
<rect x="1100" y="350" width="3" height="83" fill="#ff0000"/>
<rect x="1109" y="344" width="1" height="52" fill="#000"/>
<rect x="1107" y="347" width="5" height="38" fill="#000"/>
<rect x="1108" y="348" width="3" height="36" fill="#00ff00"/>
<rect x="1117" y="348" width="1" height="42" fill="#000"/>
<rect x="1115" y="369" width="5" height="10" fill="#000"/>
<rect x="1116" y="370" width="3" height="8" fill="#00ff00"/>
<rect x="1125" y="376" width="1" height="20" fill="#000"/>
<rect x="1123" y="376" width="5" height="13" fill="#000"/>
<rect x="1124" y="377" width="3" height="11" fill="#00ff00"/>
<rect x="1133" y="376" width="1" height="42" fill="#000"/>
<rect x="1131" y="383" width="5" height="30" fill="#000"/>
<rect x="1132" y="384" width="3" height="28" fill="#00ff00"/>
<rect x="1141" y="400" width="1" height="21" fill="#000"/>
<rect x="1139" y="410" width="5" height="3" fill="#000"/>
<rect x="1140" y="411" width="3" height="1" fill="#ff0000"/>
<rect x="1149" y="358" width="1" height="37" fill="#000"/>
<rect x="1147" y="387" width="5" height="6" fill="#000"/>
<rect x="1148" y="388" width="3" height="4" fill="#00ff00"/>
<rect x="1157" y="378" width="1" height="22" fill="#000"/>
<rect x="1155" y="383" width="5" height="10" fill="#000"/>
<rect x="1156" y="384" width="3" height="8" fill="#ff0000"/>
<rect x="1165" y="300" width="1" height="69" fill="#000"/>
<rect x="1163" y="316" width="5" height="31" fill="#000"/>
<rect x="1164" y="317" width="3" height="29" fill="#ff0000"/>
<rect x="1173" y="309" width="1" height="26" fill="#000"/>
<rect x="1171" y="310" width="5" height="9" fill="#000"/>
<rect x="1172" y="311" width="3" height="7" fill="#ff0000"/>
<rect x="1181" y="321" width="1" height="30" fill="#000"/>
<rect x="1179" y="325" width="5" height="14" fill="#000"/>
<rect x="1180" y="326" width="3" height="12" fill="#00ff00"/>
<rect x="1189" y="332" width="1" height="27" fill="#000"/>
<rect x="1187" y="339" width="5" height="9" fill="#000"/>
<rect x="1188" y="340" width="3" height="7" fill="#00ff00"/>
<rect x="1197" y="363" width="1" height="20" fill="#000"/>
<rect x="1195" y="364" width="5" height="12" fill="#000"/>
<rect x="1196" y="365" width="3" height="10" fill="#00ff00"/>
<rect x="1205" y="345" width="1" height="33" fill="#000"/>
<rect x="1203" y="358" width="5" height="20" fill="#000"/>
<rect x="1204" y="359" width="3" height="18" fill="#ff0000"/>
<rect x="1213" y="367" width="1" height="43" fill="#000"/>
<rect x="1211" y="372" width="5" height="25" fill="#000"/>
<rect x="1212" y="373" width="3" height="23" fill="#00ff00"/>
<rect x="1221" y="395" width="1" height="37" fill="#000"/>
<rect x="1219" y="399" width="5" height="30" fill="#000"/>
<rect x="1220" y="400" width="3" height="28" fill="#00ff00"/>
<rect x="5" y="314" width="1513" height="4" fill="#000"/>
<rect x="5" y="376" width="1513" height="4" fill="#000"/>
<g shape-rendering="geometricPrecision">
<line x1="1236.5" y1="385" x2="1262" y2="470" stroke="#ff0000" stroke-width="6.5" stroke-linecap="round"/>
<polygon points="1250.5,475.5 1274,467.5 1272.5,504.5" fill="#ff0000"/>
</g>
<rect x="2" y="2" width="2" height="806" fill="#fff"/>
<rect x="4" y="4" width="1514" height="1" fill="#000"/>
<rect x="4" y="4" width="1" height="519" fill="#000"/>
<rect x="1517" y="4" width="1" height="519" fill="#000"/>
<rect x="4" y="522" width="1514" height="1" fill="#000"/>
<rect x="4" y="524" width="1514" height="1" fill="#000"/>
<rect x="4" y="524" width="1" height="259" fill="#000"/>
<rect x="1517" y="524" width="1" height="259" fill="#000"/>
<rect x="4" y="782" width="1514" height="1" fill="#000"/>
<polygon points="1206,5 1221.5,5 1213.7,13.3" fill="#6a6a6a" shape-rendering="geometricPrecision"/>
<polygon points="8,12 19,12 13.5,18" fill="#000" shape-rendering="geometricPrecision"/>
<rect x="1518" y="32" width="2" height="1" fill="#000"/>
<rect x="1518" y="97" width="2" height="1" fill="#000"/>
<rect x="1518" y="162" width="2" height="1" fill="#000"/>
<rect x="1518" y="227" width="2" height="1" fill="#000"/>
<rect x="1518" y="292" width="2" height="1" fill="#000"/>
<rect x="1518" y="357" width="2" height="1" fill="#000"/>
<rect x="1518" y="422" width="2" height="1" fill="#000"/>
<rect x="1518" y="487" width="2" height="1" fill="#000"/>
<rect x="1518" y="526" width="1" height="1" fill="#000"/>
<rect x="1518" y="641" width="1" height="1" fill="#000"/>
<rect x="1518" y="781" width="1" height="1" fill="#000"/>
<rect x="5" y="783" width="1" height="3" fill="#000"/>
<rect x="133" y="783" width="1" height="3" fill="#000"/>
<rect x="261" y="783" width="1" height="3" fill="#000"/>
<rect x="389" y="783" width="1" height="3" fill="#000"/>
<rect x="517" y="783" width="1" height="3" fill="#000"/>
<rect x="645" y="783" width="1" height="3" fill="#000"/>
<rect x="773" y="783" width="1" height="3" fill="#000"/>
<rect x="901" y="783" width="1" height="3" fill="#000"/>
<rect x="1029" y="783" width="1" height="3" fill="#000"/>
<rect x="1157" y="783" width="1" height="3" fill="#000"/>
<g shape-rendering="geometricPrecision" text-rendering="geometricPrecision">
<text x="25.97" y="21" textLength="39.08" lengthAdjust="spacingAndGlyphs">CHINA</text>
<text x="65.50" y="21" textLength="49.40" lengthAdjust="spacingAndGlyphs">300-,H4</text>
<text x="122.58" y="21" textLength="44.57" lengthAdjust="spacingAndGlyphs">3782.9</text>
<text x="170.78" y="21" textLength="44.46" lengthAdjust="spacingAndGlyphs">3784.6</text>
<text x="218.98" y="21" textLength="44.46" lengthAdjust="spacingAndGlyphs">3756.8</text>
<text x="267.18" y="21" textLength="44.46" lengthAdjust="spacingAndGlyphs">3759.6</text>
<text x="8.93" y="542" textLength="36.53" lengthAdjust="spacingAndGlyphs">MACD</text>
<text x="45.66" y="542" textLength="59.12" lengthAdjust="spacingAndGlyphs">(12,26,9)</text>
<text x="108.29" y="542" textLength="32.33" lengthAdjust="spacingAndGlyphs">-3.93</text>
<text x="145.29" y="542" textLength="32.22" lengthAdjust="spacingAndGlyphs">-2.55</text>
<text x="1523.79" y="38" textLength="44.56" lengthAdjust="spacingAndGlyphs">4078.5</text>
<text x="1523.79" y="103" textLength="44.45" lengthAdjust="spacingAndGlyphs">4026.0</text>
<text x="1523.58" y="168" textLength="44.77" lengthAdjust="spacingAndGlyphs">3973.5</text>
<text x="1523.58" y="233" textLength="44.77" lengthAdjust="spacingAndGlyphs">3921.5</text>
<text x="1523.58" y="298" textLength="44.66" lengthAdjust="spacingAndGlyphs">3869.0</text>
<text x="1523.58" y="363" textLength="44.77" lengthAdjust="spacingAndGlyphs">3816.5</text>
<text x="1523.58" y="428" textLength="44.66" lengthAdjust="spacingAndGlyphs">3764.0</text>
<text x="1523.56" y="493" textLength="44.76" lengthAdjust="spacingAndGlyphs">3711.5</text>
<text x="1520.68" y="540" textLength="37.09" lengthAdjust="spacingAndGlyphs">49.72</text>
<text x="1520.68" y="647" textLength="28.59" lengthAdjust="spacingAndGlyphs">0.00</text>
<text x="1520.36" y="778" textLength="42.28" lengthAdjust="spacingAndGlyphs">-60.39</text>
<rect x="1519" y="310" width="54" height="17" fill="#000"/>
<text class="w" x="1523.88" y="324" textLength="44.56" lengthAdjust="spacingAndGlyphs">3850.0</text>
<rect x="1519" y="372" width="54" height="17" fill="#000"/>
<text class="w" x="1523.88" y="386" textLength="44.56" lengthAdjust="spacingAndGlyphs">3800.0</text>
<rect x="1519" y="420" width="54" height="17" fill="#000"/>
<text class="w" x="1523.88" y="434" textLength="44.67" lengthAdjust="spacingAndGlyphs">3759.6</text>
<text x="3.90" y="800" textLength="81.04" lengthAdjust="spacingAndGlyphs">22 May 2023</text>
<text x="131.98" y="800" textLength="74.90" lengthAdjust="spacingAndGlyphs">1 Jun 05:00</text>
<text x="259.77" y="800" textLength="83.30" lengthAdjust="spacingAndGlyphs">13 Jun 05:00</text>
<text x="387.68" y="800" textLength="83.19" lengthAdjust="spacingAndGlyphs">27 Jun 05:00</text>
<text x="515.79" y="800" textLength="69.31" lengthAdjust="spacingAndGlyphs">7 Jul 05:00</text>
<text x="644.09" y="800" textLength="76.69" lengthAdjust="spacingAndGlyphs">19 Jul 05:00</text>
<text x="771.99" y="800" textLength="77.19" lengthAdjust="spacingAndGlyphs">31 Jul 05:00</text>
<text x="900.08" y="800" textLength="83.95" lengthAdjust="spacingAndGlyphs">10 Aug 05:00</text>
<text x="1027.58" y="800" textLength="85.26" lengthAdjust="spacingAndGlyphs">22 Aug 05:00</text>
<text x="1156.10" y="800" textLength="75.61" lengthAdjust="spacingAndGlyphs">1 Sep 05:00</text>
</g>
</svg></body></html>
